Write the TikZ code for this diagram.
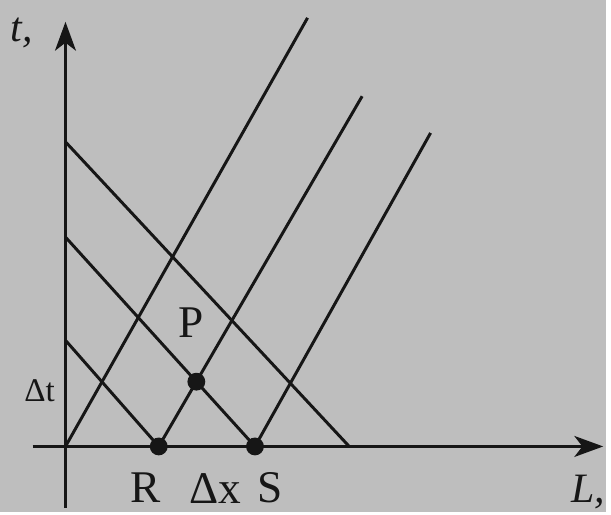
\documentclass[tikz,border=0pt]{standalone}
\usepackage{fontspec}
\setmainfont{Liberation Serif}
\usetikzlibrary{arrows.meta}
\definecolor{paper}{RGB}{190,190,190}
\definecolor{ink}{RGB}{22,22,22}

\begin{document}
\begin{tikzpicture}[x=0.2mm,y=0.2mm,
  axis/.style={draw=ink,line width=0.7mm,-{Stealth[length=5.8mm,width=4.2mm,inset=1.6mm]}},
  wave/.style={draw=ink,line width=0.6mm},
  dot/.style={circle,fill=ink,inner sep=0pt,minimum size=3.6mm},
  lbl/.style={text=ink,font=\fontsize{26}{30}\selectfont},
  small/.style={text=ink,font=\fontsize{19}{22}\selectfont}]
\fill[paper] (-66,-66) rectangle (545,450);
% axes
\coordinate (O) at (0,0);
\coordinate (tb) at (0,-62);
\coordinate (tt) at (0,428);
\coordinate (lb) at (-33,0);
\coordinate (lt) at (542,0);
\draw[axis] (tb) -- (tt);
\draw[axis] (lb) -- (lt);
% characteristics
\coordinate (a1) at (0,307);
\coordinate (a2) at (0,211);
\coordinate (a3) at (0,107);
\coordinate (b1) at (286,0);
\coordinate (R) at (94,0);
\coordinate (S) at (191,0);
\coordinate (c1) at (244,432);
\coordinate (c2) at (299,353);
\coordinate (c3) at (368,316);
\draw[wave] (O) -- (c1);
\draw[wave] (R) -- (c2);
\draw[wave] (S) -- (c3);
\draw[wave] (a1) -- (b1);
\draw[wave] (a2) -- (S);
\draw[wave] (a3) -- (R);
\coordinate (P) at (intersection of R--c2 and a2--S);
\node[dot] (Rdot) at (R) {};
\node[dot] (Sdot) at (S) {};
\node[dot] (Pdot) at (P) {};
% labels
\node[lbl] (Rlab) at (81,-42) {R};
\node[lbl] (dxlab) at (151,-42) {Δx};
\node[lbl] (Slab) at (206,-42) {S};
\node[lbl] (Plab) at (127,125) {P};
\node[small] (dtlab) at (-26,56) {Δt};
\node[lbl,font=\fontsize{24}{28}\selectfont\itshape] (tlab) at (-44,417) {t,};
\node[lbl,font=\fontsize{24}{28}\selectfont\itshape] (Llab) at (527,-46) {L,};
\end{tikzpicture}
\end{document}
